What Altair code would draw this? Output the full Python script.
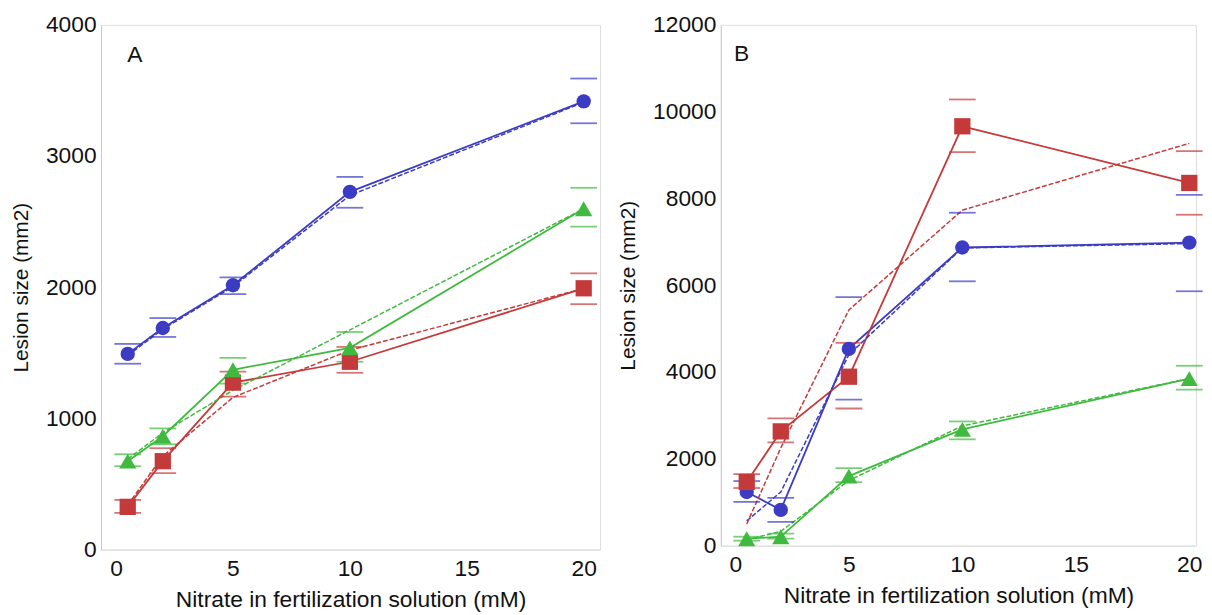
import altair as alt
import pandas as pd

# ---------------- data ----------------
nitrate = [0.5, 2, 5, 10, 20]
series_order = ["blue", "red", "green"]

# Panel A
a_blue = [1492, 1689, 2015, 2727, 3417]
a_blue_fit = [1480, 1680, 2005, 2700, 3410]
a_blue_hi = [1568, 1765, 2076, 2841, 3591]
a_blue_lo = [1417, 1621, 1947, 2606, 3250]

a_red = [326, 674, 1273, 1432, 1992]
a_red_fit = [340, 712, 1160, 1520, 1990]
a_red_hi = [379, 773, 1356, 1545, 2106]
a_red_lo = [280, 583, 1167, 1348, 1871]

a_green = [674, 864, 1371, 1538, 2598]
a_green_fit = [690, 890, 1214, 1675, 2598]
a_green_hi = [727, 924, 1462, 1659, 2758]
a_green_lo = [636, 803, 1265, 1432, 2462]

# Panel B
b_blue = [1237, 824, 4534, 6870, 6984]
b_blue_fit = [570, 1237, 4400, 6860, 6960]
b_blue_hi = [1488, 1099, 5725, 7671, 8083]
b_blue_lo = [1008, 550, 3366, 6091, 5862]

b_red = [1466, 2633, 3893, 9663, 8358]
b_red_fit = [500, 2250, 5430, 7730, 9270]
b_red_hi = [1649, 2931, 4671, 10281, 9091]
b_red_lo = [1328, 2381, 3160, 9068, 7625]

b_green = [160, 206, 1603, 2679, 3847]
b_green_fit = [130, 330, 1500, 2760, 3850]
b_green_hi = [206, 275, 1786, 2862, 4145]
b_green_lo = [115, 160, 1466, 2450, 3595]

panel_labels = ["A", "B"]
y_title = "Lesion size (mm2)"
x_title = "Nitrate in fertilization solution (mM)"


def build(tables):
    rows = []
    for name, (m, f, hi, lo) in tables.items():
        for i, xv in enumerate(nitrate):
            rows.append({"series": name, "x": xv, "y": m[i], "fit": f[i], "hi": hi[i], "lo": lo[i]})
    return pd.DataFrame(rows)


df_a = build({
    "blue": (a_blue, a_blue_fit, a_blue_hi, a_blue_lo),
    "red": (a_red, a_red_fit, a_red_hi, a_red_lo),
    "green": (a_green, a_green_fit, a_green_hi, a_green_lo),
})
df_b = build({
    "blue": (b_blue, b_blue_fit, b_blue_hi, b_blue_lo),
    "red": (b_red, b_red_fit, b_red_hi, b_red_lo),
    "green": (b_green, b_green_fit, b_green_hi, b_green_lo),
})

FONT = "Liberation Sans"
line_colors = ["#3b3bc4", "#c43a3a", "#3fba3f"]
cap_colors = ["#7c7ccc", "#cc7474", "#76c876"]
shapes = {"blue": ("circle", 210), "red": ("square", 270), "green": ("triangle-up", 300)}

line_scale = alt.Scale(domain=series_order, range=line_colors)
cap_scale = alt.Scale(domain=series_order, range=cap_colors)


def panel(df, xdom, ydom, yvals, w, h, label, lx, ly):
    xenc = alt.X("x:Q", scale=alt.Scale(domain=xdom, nice=False, zero=False),
                 axis=alt.Axis(values=[0, 5, 10, 15, 20], title=x_title, grid=False, ticks=False,
                               domainColor="#dedede", labelFontSize=23, titleFontSize=23,
                               labelPadding=8, titlePadding=8, labelFont=FONT, titleFont=FONT,
                               labelColor="#111", titleColor="#111", titleFontWeight="normal"))

    def yenc(field):
        return alt.Y(f"{field}:Q", scale=alt.Scale(domain=ydom, nice=False, zero=True),
                     axis=alt.Axis(values=yvals, format="d", title=y_title, grid=False, ticks=False,
                                   domainColor="#c8c8c8", labelFontSize=23, titleFontSize=21,
                                   labelPadding=5, titlePadding=14, labelFont=FONT, titleFont=FONT,
                                   labelColor="#111", titleColor="#111", titleFontWeight="normal"))

    base = alt.Chart(df)
    col = alt.Color("series:N", scale=line_scale, legend=None)
    lines = base.mark_line(strokeWidth=1.8).encode(x=xenc, y=yenc("y"), color=col, detail="series:N")
    fits = base.mark_line(strokeWidth=1.5, strokeDash=[5, 2]).encode(
        x=xenc, y=yenc("fit"), color=col, detail="series:N")
    capc = alt.Color("series:N", scale=cap_scale, legend=None)
    cap_hi = base.mark_tick(orient="horizontal", size=27, thickness=1.8).encode(x=xenc, y=yenc("hi"), color=capc)
    cap_lo = base.mark_tick(orient="horizontal", size=27, thickness=1.8).encode(x=xenc, y=yenc("lo"), color=capc)
    layers = [lines, fits, cap_hi, cap_lo]
    for i, s in enumerate(series_order):
        shp, sz = shapes[s]
        layers.append(
            base.transform_filter(alt.datum.series == s)
            .mark_point(shape=shp, size=sz, filled=True, opacity=1, color=line_colors[i])
            .encode(x=xenc, y=yenc("y"))
        )
    txt = alt.Chart(pd.DataFrame({"t": [label]})).mark_text(
        fontSize=23, font=FONT, align="center", baseline="middle", color="#111"
    ).encode(x=alt.value(lx), y=alt.value(ly), text="t:N")
    layers.append(txt)
    return alt.layer(*layers).properties(width=w, height=h)


pa = panel(df_a, [-0.64, 20.7], [0, 4000], [0, 1000, 2000, 3000, 4000], 504, 530, panel_labels[0], 34, 30)
pb = panel(df_b, [-0.64, 20.3], [0, 12000], [0, 2000, 4000, 6000, 8000, 10000, 12000], 480, 526,
           panel_labels[1], 21, 29)

chart = alt.hconcat(pa, pb, spacing=16).properties(
    padding={"left": 2, "top": 2, "right": 0, "bottom": 0}
).configure_view(stroke="#e2e2e2", strokeWidth=1).configure(font=FONT, background="white")

chart.save("out.html", embed_options={"renderer": "svg", "actions": False})
